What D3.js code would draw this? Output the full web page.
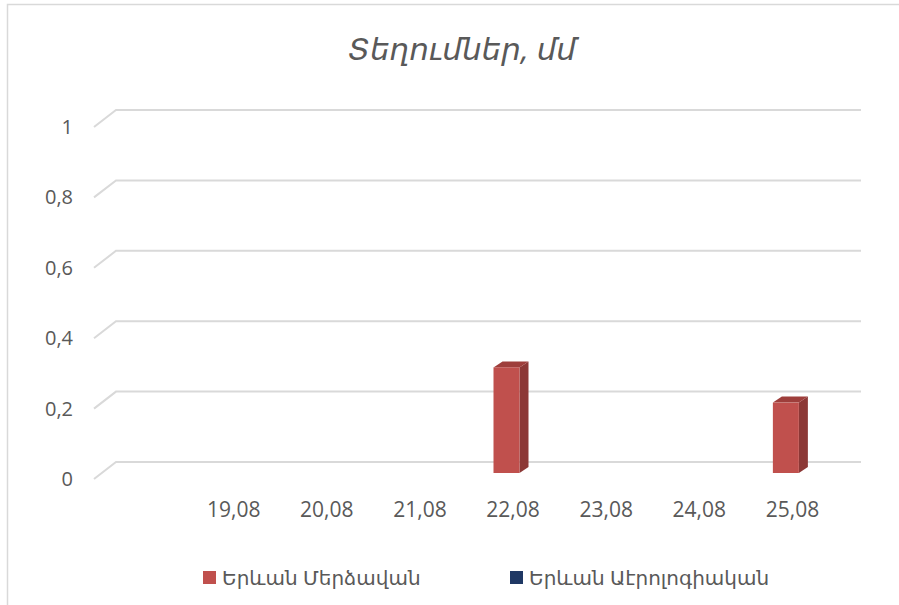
<!DOCTYPE html>
<html>
<head>
<meta charset="utf-8">
<script src="https://cdnjs.cloudflare.com/ajax/libs/d3/7.8.5/d3.min.js"></script>
<style>
  body { margin: 0; background: #fff; }
  text { font-family: "Open Sans", "Noto Sans", "DejaVu Sans", sans-serif; fill: #595959; }
</style>
</head>
<body>
<svg width="899" height="605"></svg>
<script>
// data
var categories = ["", "19,08", "20,08", "21,08", "22,08", "23,08", "24,08", "25,08"];
var seriesNames = ["Երևան Մերձավան", "Երևան Աէրոլոգիական"];
var merdzavan = [0, 0, 0, 0, 0.3, 0, 0, 0.2];
var aerologiakan = [0, 0, 0, 0, 0, 0, 0, 0];
var yTicks = [0, 0.2, 0.4, 0.6, 0.8, 1];
var title = "Տեղումներ, մմ";

var colors = ["#C0504D", "#1F3864"];
var sideColors = ["#8C3836", "#142548"];
var topColors = ["#9E3E3B", "#1A2E56"];

var svg = d3.select("svg");

// outer border
svg.append("rect")
  .attr("x", 7.5).attr("y", 4.5)
  .attr("width", 1000).attr("height", 1000)
  .attr("fill", "none")
  .attr("stroke", "#D9D9D9")
  .attr("stroke-width", 1.5);

var depthX = 22, depthY = 17;

// back wall scales
var y = d3.scaleLinear().domain([0, 1]).range([462, 110]);
var xBack = d3.scaleBand().domain(categories).range([116, 861]);
var xFront = d3.scaleBand().domain(categories).range([94, 839]);
var xSeries = d3.scaleBand().domain(seriesNames).range([27, 79]);

var fmt = d3.formatLocale({decimal: ",", thousands: " ", grouping: [3], currency: ["", ""]}).format("~g");

// gridlines
var grid = svg.append("g").attr("class", "grid");
yTicks.forEach(function(t) {
  grid.append("path")
    .attr("d", "M" + (xBack.range()[0] - depthX) + "," + (y(t) + depthY) +
               "L" + xBack.range()[0] + "," + y(t) +
               "H" + xBack.range()[1])
    .attr("fill", "none")
    .attr("stroke", "#D9D9D9")
    .attr("stroke-width", 2);
});

// y labels
svg.append("g").selectAll("text")
  .data(yTicks)
  .enter().append("text")
  .attr("x", 73)
  .attr("y", function(d) { return y(d) + depthY; })
  .attr("dy", "0.35em")
  .attr("text-anchor", "end")
  .style("font-size", "20px")
  .text(function(d) { return fmt(d); });

// x labels
svg.append("g").selectAll("text")
  .data(categories)
  .enter().append("text")
  .attr("x", function(d) { return xFront(d) + xFront.bandwidth() / 2; })
  .attr("y", 510)
  .attr("dy", "0.35em")
  .attr("text-anchor", "middle")
  .style("font-size", "21px")
  .text(function(d) { return d; });

// 3d bars
var barShiftY = 11, bdx = 9, bdy = 6;
[merdzavan, aerologiakan].forEach(function(values, si) {
  var g = svg.append("g");
  values.forEach(function(v, i) {
    if (v <= 0) return;
    var x0 = xFront(categories[i]) + xSeries(seriesNames[si]);
    var w = xSeries.bandwidth();
    var yb = y(0) + barShiftY, yt = y(v) + barShiftY;
    // side
    g.append("path")
      .attr("d", "M" + (x0 + w) + "," + yt + "L" + (x0 + w + bdx) + "," + (yt - bdy) +
                 "L" + (x0 + w + bdx) + "," + (yb - bdy) + "L" + (x0 + w) + "," + yb + "Z")
      .attr("fill", sideColors[si]);
    // top
    g.append("path")
      .attr("d", "M" + x0 + "," + yt + "L" + (x0 + bdx) + "," + (yt - bdy) +
                 "L" + (x0 + w + bdx) + "," + (yt - bdy) + "L" + (x0 + w) + "," + yt + "Z")
      .attr("fill", topColors[si]);
    // front
    g.append("rect")
      .attr("x", x0).attr("y", yt)
      .attr("width", w).attr("height", yb - yt)
      .attr("fill", colors[si]);
  });
});

// title
svg.append("text")
  .attr("x", 462)
  .attr("y", 49)
  .attr("dy", "0.35em")
  .attr("text-anchor", "middle")
  .style("font-size", "31px")
  .style("font-style", "italic")
  .text(title);

// legend
var legendX = [203, 510];
var legend = svg.append("g").selectAll("g")
  .data(seriesNames)
  .enter().append("g")
  .attr("transform", function(d, i) { return "translate(" + legendX[i] + ",571)"; });
legend.append("rect")
  .attr("width", 13).attr("height", 13)
  .attr("fill", function(d, i) { return colors[i]; });
legend.append("text")
  .attr("x", 19).attr("y", 7)
  .attr("dy", "0.35em")
  .style("font-size", "20px")
  .text(function(d) { return d; });
</script>
</body>
</html>
